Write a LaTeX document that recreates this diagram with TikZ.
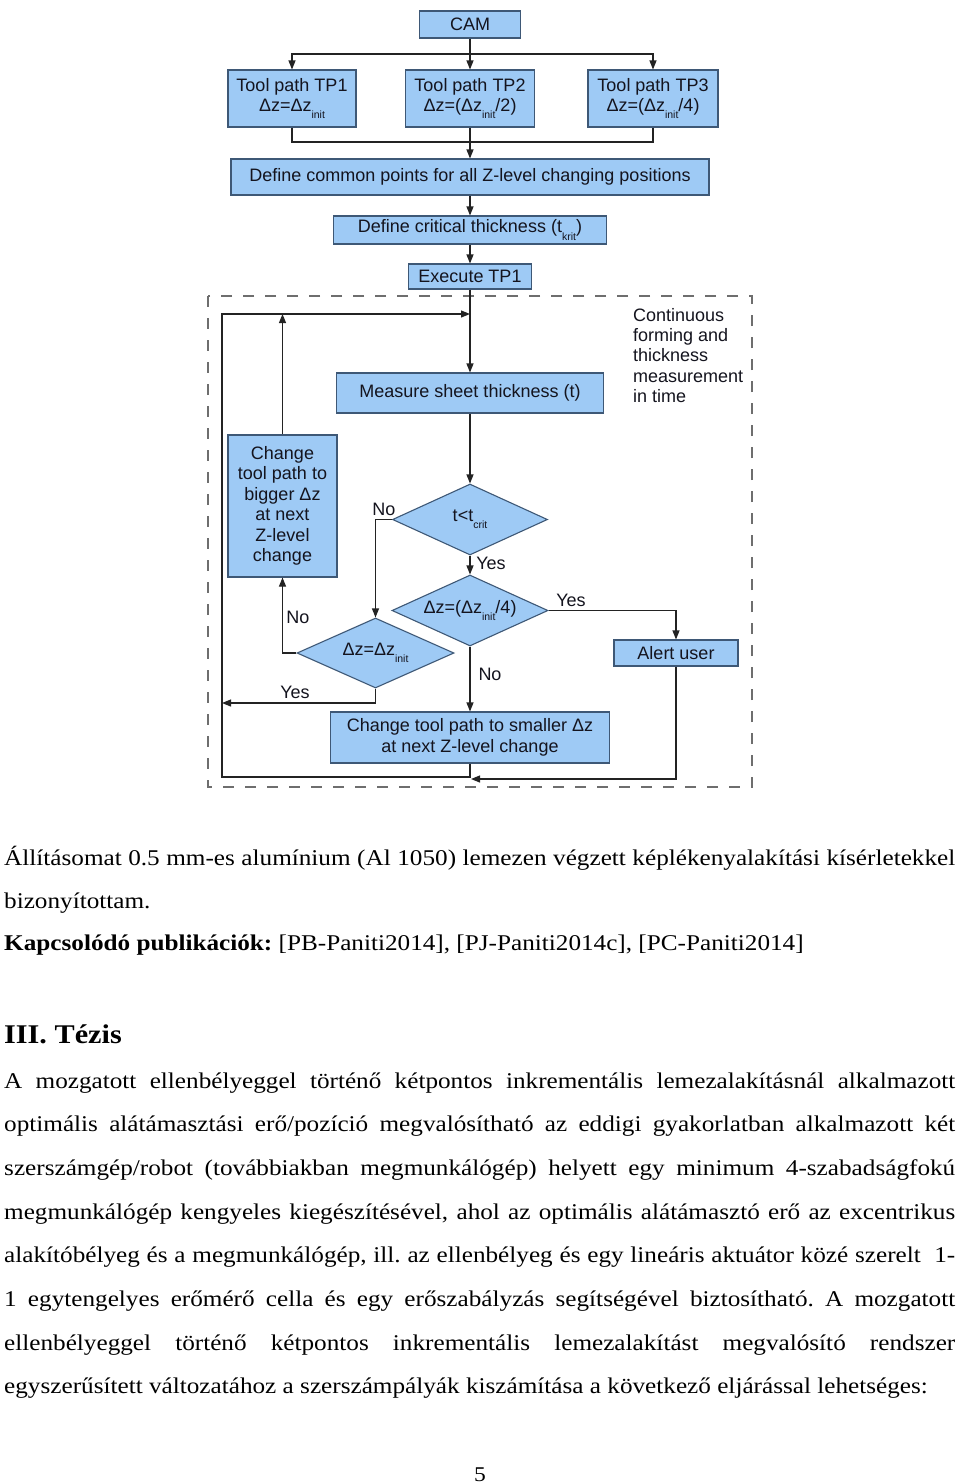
\documentclass[tikz,border=0pt]{standalone}
\usepackage{fontspec}
\setmainfont[FakeStretch=1.12]{Liberation Serif}
\newfontfamily\flowfont{Liberation Sans}
\usetikzlibrary{arrows.meta,shapes.geometric}
\definecolor{boxfill}{RGB}{158,202,245}
\definecolor{boxdraw}{RGB}{62,88,118}
\definecolor{linecol}{RGB}{35,35,35}
\definecolor{dashcol}{RGB}{110,110,110}
\definecolor{txtcol}{RGB}{20,20,30}
\newcommand{\sbs}[1]{\raisebox{-0.4em}{\fontsize{10.5}{10.5}\selectfont #1}}
\newcommand{\jline}[1]{\makebox[951pt][s]{#1}}
\frenchspacing
\begin{document}
\begin{tikzpicture}[x=1pt,y=-1pt,
  fbox/.style={draw=boxdraw, fill=boxfill, line width=1.1pt, inner sep=0pt, align=center,
    font=\flowfont\fontsize{18}{20.5}\selectfont, text=txtcol},
  ddiam/.style={fbox, diamond, aspect=2.2},
  conn/.style={draw=linecol, line width=1.1pt},
  arr/.style={conn, -{Triangle[length=9pt,width=7pt]}},
  lbl/.style={font=\flowfont\fontsize{18}{20}\selectfont, text=txtcol, inner sep=0pt},
  body/.style={anchor=base west, inner sep=0pt, font=\fontsize{22.5}{26}\selectfont\frenchspacing, text=black}
]
\fill[white] (0,0) rectangle (960,1484);
\useasboundingbox (0,0) rectangle (960,1484);

% dashed frame
\draw[dashcol, line width=1.1pt, dash pattern=on 11pt off 11pt] (208,296) rectangle (752,787);

% boxes
\node[fbox, minimum width=101pt, minimum height=27pt] (cam) at (470,24.5) {CAM};
\node[fbox, minimum width=128pt, minimum height=57pt] (tp1) at (292,98.5) {Tool path TP1\\Δz=Δz\sbs{init}};
\node[fbox, minimum width=129pt, minimum height=57pt] (tp2) at (470,98.5) {Tool path TP2\\Δz=(Δz\sbs{init}/2)};
\node[fbox, minimum width=130pt, minimum height=57pt] (tp3) at (653,98.5) {Tool path TP3\\Δz=(Δz\sbs{init}/4)};
\node[fbox, minimum width=478pt, minimum height=36pt] (common) at (470,177) {Define common points for all Z-level changing positions};
\node[fbox, minimum width=273pt, minimum height=28pt] (crit) at (470,230) {Define critical thickness (t\sbs{krit})};
\node[fbox, minimum width=123pt, minimum height=25pt] (exec) at (470,276.5) {Execute TP1};
\node[fbox, minimum width=267pt, minimum height=40pt] (measure) at (470,393) {Measure sheet thickness (t)};
\node[fbox, minimum width=109pt, minimum height=142pt] (bigger) at (282.5,506) {Change\\tool path to\\bigger Δz\\at next\\Z-level\\change};
\node[ddiam, minimum width=155pt, minimum height=71pt] (dcrit) at (470,519.5) {t<t\sbs{crit}};
\node[ddiam, minimum width=156pt, minimum height=71pt] (dquart) at (470,610.5) {Δz=(Δz\sbs{init}/4)};
\node[ddiam, minimum width=157pt, minimum height=70pt] (dinit) at (375.5,653) {Δz=Δz\sbs{init}};
\node[fbox, minimum width=124pt, minimum height=26pt] (alert) at (676,653) {Alert user};
\node[fbox, minimum width=279pt, minimum height=51pt] (smaller) at (470,737.5) {Change tool path to smaller Δz\\at next Z-level change};

\node[lbl, anchor=north west, align=left, font=\flowfont\fontsize{18}{20.3}\selectfont] (cont) at (633,308)
  {Continuous\\forming and\\thickness\\measurement\\in time};

% labels
\node[lbl] (lno1) at (384,509) {No};
\node[lbl] (lyes1) at (491,563) {Yes};
\node[lbl] (lyes2) at (571,600) {Yes};
\node[lbl] (lno2) at (298,617) {No};
\node[lbl] (lyes3) at (295,692) {Yes};
\node[lbl] (lno3) at (490,674) {No};

% coordinates
\coordinate (j1) at (470,54);
\coordinate (j2) at (470,142);
\coordinate (loopin) at (470,314);
\coordinate (topleft) at (222,314);
\coordinate (yesleft) at (222,703);
\coordinate (botleft) at (222,777);
\coordinate (botmid) at (470,777);
\coordinate (alertend) at (471,779);

% connectors
\draw[conn] (cam.south) -- (j1);
\draw[arr] (j1) -| (tp1.north);
\draw[arr] (j1) -| (tp3.north);
\draw[arr] (j1) -- (tp2.north);
\draw[conn] (tp1.south) |- (j2);
\draw[conn] (tp3.south) |- (j2);
\draw[conn] (tp2.south) -- (j2);
\draw[arr] (j2) -- (common.north);
\draw[arr] (common.south) -- (crit.north);
\draw[arr] (crit.south) -- (exec.north);
\draw[arr] (exec.south) -- (measure.north);
\draw[arr] (measure.south) -- (dcrit.north);
\draw[arr] (dcrit.south) -- (dquart.north);
\draw[arr] (dcrit.west) -| (dinit.north);
\draw[arr] (dinit.west) -| (bigger.south);
\draw[arr] (bigger.north) -- (bigger.north |- loopin);
\draw[arr] (dinit.south) |- (yesleft);
\draw[arr] (dquart.east) -| (alert.north);
\draw[arr] (dquart.south) -- (smaller.north);
\draw[arr] (smaller.south) -- (botmid) -- (botleft) -- (topleft) -- (loopin);
\draw[arr] (alert.south) |- (alertend);

% body text
\node[body] (t1) at (4,865) {\jline{Állításomat 0.5 mm-es alumínium (Al 1050) lemezen végzett képlékenyalakítási kísérletekkel}};
\node[body] (t2) at (4,908) {bizonyítottam.};
\node[body] (t3) at (4,950) {\textbf{Kapcsolódó publikációk:} [PB-Paniti2014], [PJ-Paniti2014c], [PC-Paniti2014]};
\node[body, font=\fontsize{27}{30}\selectfont\bfseries] (head) at (4,1043) {III. Tézis};
\node[body] (p1) at (4,1088) {\jline{A mozgatott ellenbélyeggel történő kétpontos inkrementális lemezalakításnál alkalmazott}};
\node[body] (p2) at (4,1131.7) {\jline{optimális alátámasztási erő/pozíció megvalósítható az eddigi gyakorlatban alkalmazott két}};
\node[body] (p3) at (4,1175.4) {\jline{szerszámgép/robot (továbbiakban megmunkálógép) helyett egy minimum 4-szabadságfokú}};
\node[body] (p4) at (4,1219) {\jline{megmunkálógép kengyeles kiegészítésével, ahol az optimális alátámasztó erő az excentrikus}};
\node[body] (p5) at (4,1262.8) {\jline{alakítóbélyeg és a megmunkálógép, ill. az ellenbélyeg és egy lineáris aktuátor közé szerelt\ \ 1-}};
\node[body] (p6) at (4,1306.5) {\jline{1 egytengelyes erőmérő cella és egy erőszabályzás segítségével biztosítható. A mozgatott}};
\node[body] (p7) at (4,1350) {\jline{ellenbélyeggel történő kétpontos inkrementális lemezalakítást megvalósító rendszer}};
\node[body] (p8) at (4,1393.8) {egyszerűsített változatához a szerszámpályák kiszámítása a következő eljárással lehetséges:};
\node[body, anchor=base, font=\fontsize{21}{24}\selectfont] (pg) at (480,1481) {5};
\end{tikzpicture}
\end{document}
